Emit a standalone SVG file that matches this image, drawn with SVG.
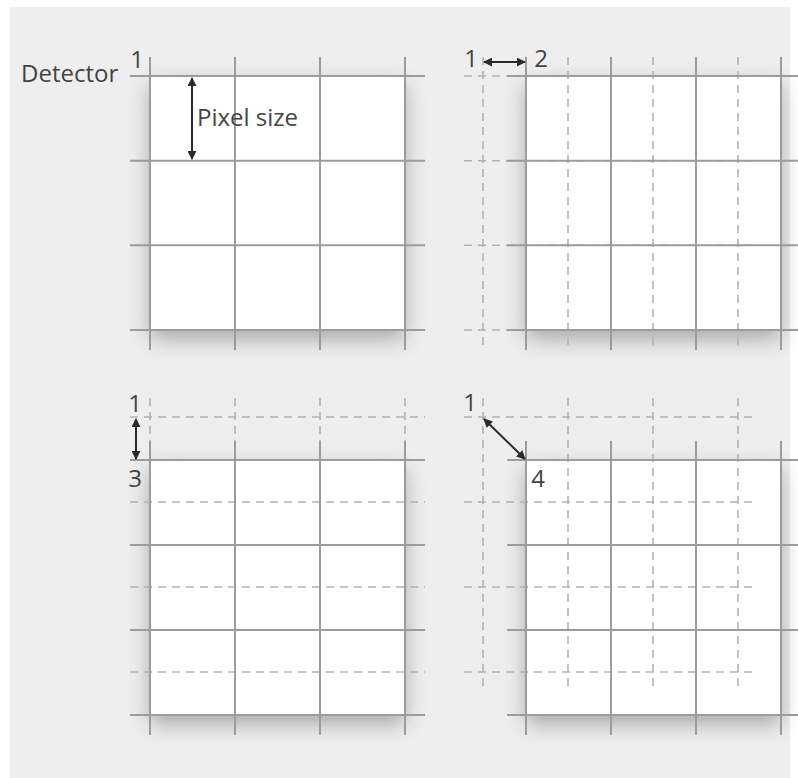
<svg xmlns="http://www.w3.org/2000/svg" width="798" height="778" viewBox="0 0 798 778">
  <defs>
    <filter id="shadow" x="-25%" y="-25%" width="150%" height="160%">
      <feGaussianBlur in="SourceAlpha" stdDeviation="11"/>
      <feOffset dx="0" dy="9" result="b"/>
      <feComponentTransfer><feFuncA type="linear" slope="0.3"/></feComponentTransfer>
      <feMerge><feMergeNode/><feMergeNode in="SourceGraphic"/></feMerge>
    </filter>
    <marker id="ah" viewBox="0 0 10 10" refX="9" refY="5" markerWidth="4.5" markerHeight="4.5" orient="auto-start-reverse" markerUnits="strokeWidth">
      <path d="M0,0 L10,5 L0,10 z" fill="#2a2a2a"/>
    </marker>
  </defs>
  <style>
    .pix { fill: #ffffff; filter: url(#shadow); }
    .solid { stroke: #9c9c9c; stroke-width: 2; fill: none; }
    .dash { stroke: #b2b2b2; stroke-width: 1.6; stroke-dasharray: 8 6; fill: none; }
    .lbl { font-family: "Open Sans", "DejaVu Sans", sans-serif; font-size: 24px; fill: #444444; }
    .arr { stroke: #2a2a2a; stroke-width: 2; fill: none; marker-start: url(#ah); marker-end: url(#ah); }
  </style>
  <rect x="0" y="0" width="798" height="778" fill="#ffffff"/>
  <rect x="10" y="7" width="780" height="771" fill="#eeeeee"/>

  <g id="panel-1">
    <rect class="pix" x="150" y="76" width="255" height="254"/>
    <path class="solid" d="M150,57V350M235,57V350M320,57V350M405,57V350M130,76H425M130,160.7H425M130,245.3H425M130,330H425"/>
    <text class="lbl" x="21" y="82">Detector</text>
    <text class="lbl" x="137" y="68" text-anchor="middle">1</text>
    <text class="lbl" x="197" y="126">Pixel size</text>
  </g>

  <g id="panel-2">
    <rect class="pix" x="526" y="76" width="255" height="254"/>
    <path class="dash" d="M483,57V350M568,57V350M653,57V350M738,57V350M464,76H758M464,160.7H758M464,245.3H758M464,330H758"/>
    <path class="solid" d="M526,57V350M611,57V350M696,57V350M781,57V350M507,76H801M507,160.7H801M507,245.3H801M507,330H801"/>
    <text class="lbl" x="471" y="67" text-anchor="middle">1</text>
    <text class="lbl" x="541" y="67" text-anchor="middle">2</text>
  </g>

  <g id="panel-3">
    <rect class="pix" x="150" y="460" width="255" height="255"/>
    <path class="dash" d="M150,398V692M235,398V692M320,398V692M405,398V692M130,417H425M130,502H425M130,587H425M130,672H425"/>
    <path class="solid" d="M150,441V735M235,441V735M320,441V735M405,441V735M130,460H425M130,545H425M130,630H425M130,715H425"/>
    <text class="lbl" x="135" y="412" text-anchor="middle">1</text>
    <text class="lbl" x="135" y="487" text-anchor="middle">3</text>
  </g>

  <g id="panel-4">
    <rect class="pix" x="526" y="460" width="255" height="255"/>
    <path class="dash" d="M483,398V692M568,398V692M653,398V692M738,398V692M464,417H758M464,502H758M464,587H758M464,672H758"/>
    <path class="solid" d="M526,441V735M611,441V735M696,441V735M781,441V735M507,460H801M507,545H801M507,630H801M507,715H801"/>
    <text class="lbl" x="470" y="411" text-anchor="middle">1</text>
    <text class="lbl" x="538" y="487" text-anchor="middle">4</text>
  </g>

  <g id="connectors">
    <line class="arr" x1="192" y1="78" x2="192" y2="159"/>
    <line class="arr" x1="484" y1="62" x2="525" y2="62"/>
    <line class="arr" x1="136" y1="419" x2="136" y2="459"/>
    <line class="arr" x1="484" y1="419" x2="525" y2="459"/>
  </g>
</svg>
